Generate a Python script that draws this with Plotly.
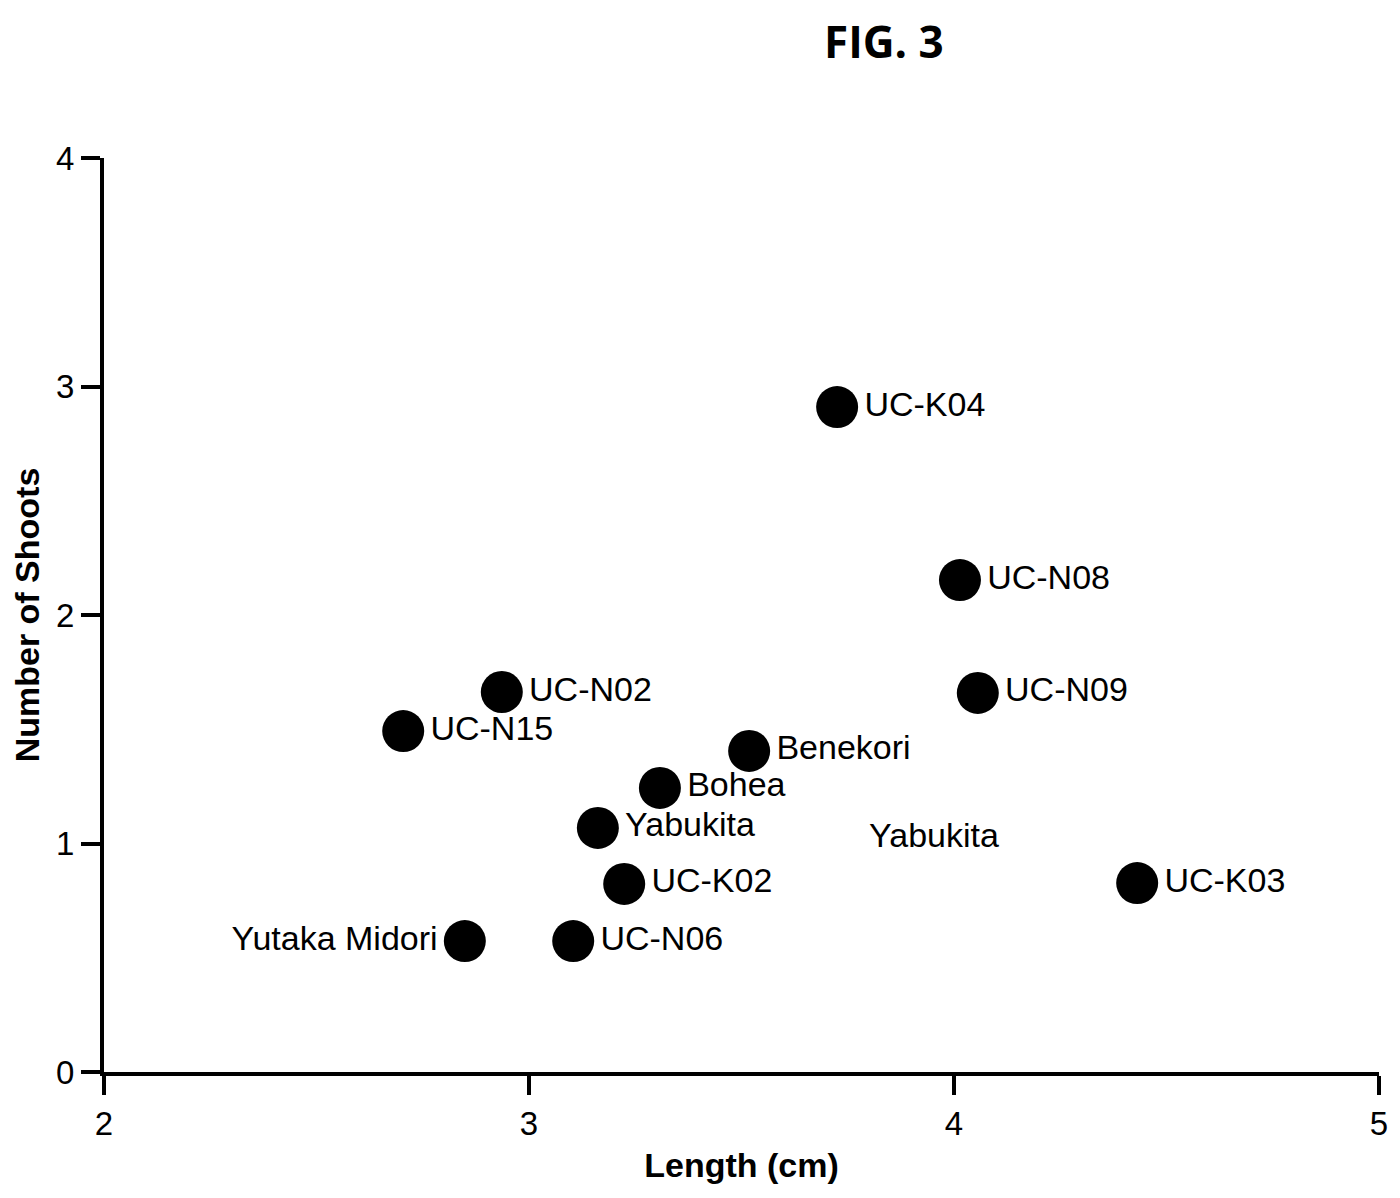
import plotly.graph_objects as go

# cultivar data
names = ["UC-K04", "UC-N08", "UC-N09", "UC-N02", "UC-N15", "Benekori", "Bohea",
         "Yabukita", "UC-K02", "UC-K03", "Yutaka Midori", "UC-N06"]
length_cm = [3.725, 4.014, 4.056, 2.936, 2.704, 3.518, 3.308, 3.162, 3.224, 4.431, 2.849, 3.104]
shoots = [2.91, 2.153, 1.659, 1.663, 1.492, 1.405, 1.243, 1.068, 0.823, 0.827, 0.573, 0.573]
label_pos = ["middle right"] * 10 + ["middle left", "middle right"]

# stray label with no marker
extra_label = ["Yabukita"]
extra_x = [3.953]
extra_y = [1.024]

x_ticks = [2, 3, 4, 5]
y_ticks = [0, 1, 2, 3, 4]

font = "Liberation Sans, Arial, sans-serif"
ml, mr, mt, mb = 96, 29, 150, 134

fig = go.Figure()
fig.add_trace(go.Scatter(
    x=length_cm, y=shoots, mode="markers+text",
    text=names, textposition=label_pos,
    marker=dict(size=42, color="black"),
    textfont=dict(family=font, size=34, color="black"),
    cliponaxis=False, showlegend=False,
))
fig.add_trace(go.Scatter(
    x=extra_x, y=extra_y, mode="text", text=extra_label,
    textposition="middle center",
    textfont=dict(family=font, size=34, color="black"),
    showlegend=False,
))

axis_style = dict(
    showgrid=False, zeroline=False, showline=True, linecolor="black", linewidth=4,
    ticks="outside", ticklen=19, tickwidth=4, tickcolor="black",
    tickfont=dict(family=font, size=33, color="black"),
)

fig.update_layout(
    width=1400, height=1198,
    margin=dict(l=ml, r=mr, t=mt, b=mb),
    plot_bgcolor="white", paper_bgcolor="white",
    xaxis=dict(range=[2, 5], tickvals=x_ticks,
               title=dict(text="<b>Length (cm)</b>", font=dict(family=font, size=34, color="black"), standoff=14),
               **axis_style),
    yaxis=dict(range=[0, 4], tickvals=y_ticks,
               title=dict(text="<b>Number of Shoots</b>", font=dict(family=font, size=34, color="black"), standoff=10),
               **axis_style),
    annotations=[dict(text="<b>FIG. 3</b>", xref="paper", yref="paper",
                      x=(876 - ml) / (1400 - ml - mr),
                      y=1.0 + (mt - 33) / (1198 - mt - mb),
                      showarrow=False, xanchor="center", yanchor="middle",
                      font=dict(family="Open Sans, sans-serif", size=44, color="black"))],
)

fig.write_html("out.html")
